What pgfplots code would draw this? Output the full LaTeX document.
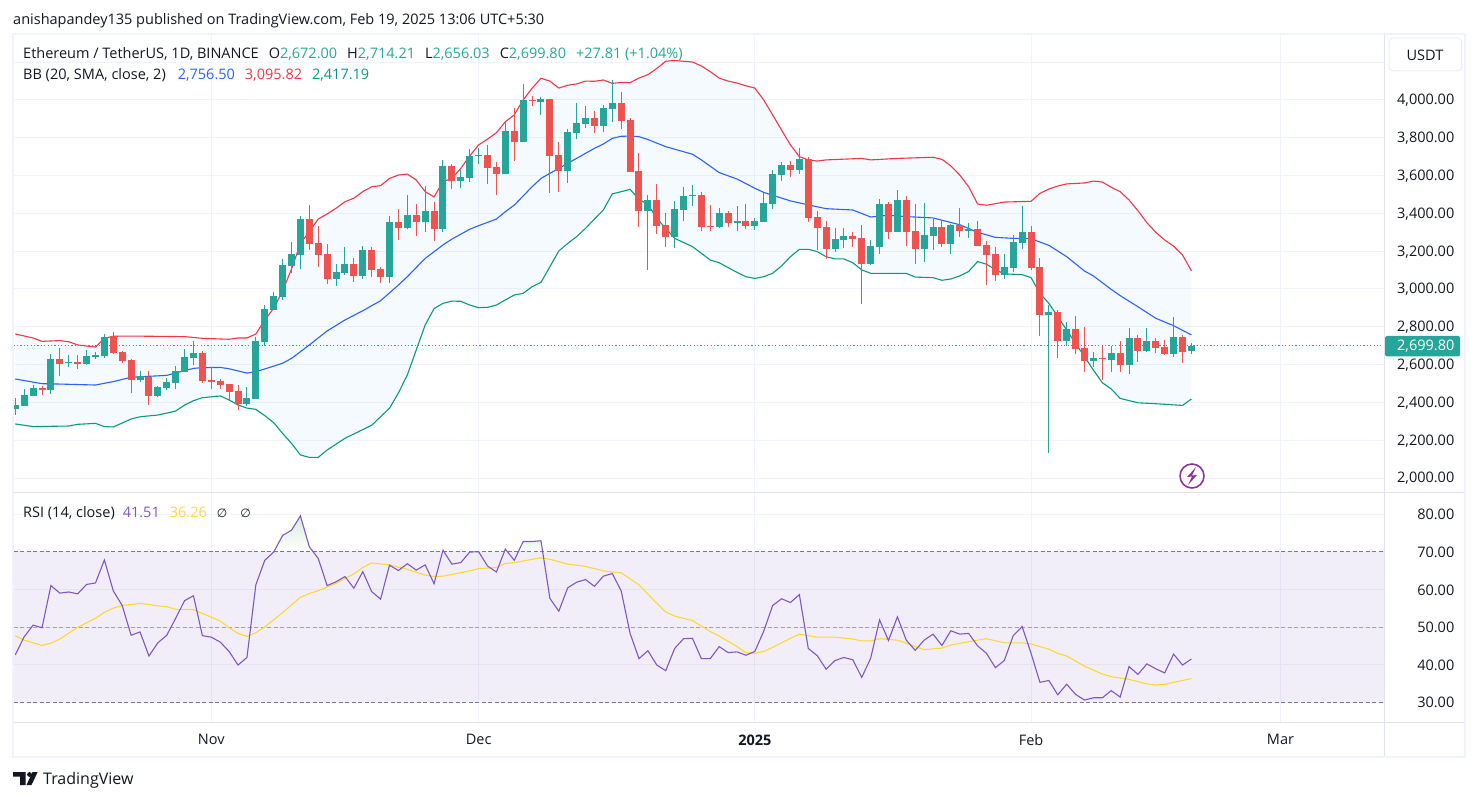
\documentclass[border=0pt]{standalone}
\usepackage{fontspec}
\setmainfont{Open Sans}
\newfontfamily\djv{DejaVu Sans}
\usepackage{pgfplots}
\usepackage{pgfplotstable}
\pgfplotsset{compat=1.18}
\usepgfplotslibrary{fillbetween}
\definecolor{cgreen}{HTML}{26A69A}
\definecolor{cred}{HTML}{EF5350}
\definecolor{bbblue}{HTML}{2962FF}
\definecolor{bbfill}{HTML}{2196F3}
\definecolor{bbred}{HTML}{F23645}
\definecolor{bbgreen}{HTML}{089981}
\definecolor{gridc}{HTML}{F0F3FA}
\definecolor{framec}{HTML}{E0E3EB}
\definecolor{rsip}{HTML}{7E57C2}
\definecolor{rsiy}{HTML}{FDD835}
\definecolor{dashc}{HTML}{787B86}
\definecolor{txt}{HTML}{131722}
\definecolor{gfill}{HTML}{D8ECDC}
\pgfplotstableread{
i o h l c
0 2365 2421 2333 2386
1 2381 2469 2381 2439
2 2434 2492 2434 2476
3 2478 2487 2439 2466
4 2466 2656 2444 2630
5 2630 2690 2540 2603
6 2608 2651 2589 2614
7 2614 2651 2577 2603
8 2603 2677 2598 2645
9 2640 2665 2628 2651
10 2645 2762 2635 2746
11 2751 2772 2656 2661
12 2667 2672 2608 2619
13 2624 2630 2450 2518
14 2518 2566 2508 2540
15 2534 2566 2386 2434
16 2434 2487 2428 2481
17 2476 2529 2466 2508
18 2503 2593 2471 2566
19 2561 2682 2561 2640
20 2635 2725 2598 2661
21 2661 2672 2503 2513
22 2518 2585 2471 2508
23 2513 2524 2471 2492
24 2497 2497 2413 2455
25 2460 2492 2360 2391
26 2391 2481 2381 2423
27 2418 2744 2418 2725
28 2720 2915 2698 2894
29 2889 2984 2889 2963
30 2959 3157 2942 3127
31 3123 3249 3083 3185
32 3180 3386 3106 3370
33 3370 3444 3206 3240
34 3243 3333 3116 3180
35 3185 3238 3026 3053
36 3053 3132 3016 3090
37 3084 3222 3074 3132
38 3132 3164 3037 3069
39 3069 3227 3053 3206
40 3206 3222 3063 3100
41 3106 3118 3032 3063
42 3063 3386 3032 3354
43 3354 3423 3259 3323
44 3323 3497 3317 3391
45 3391 3450 3280 3354
46 3354 3545 3301 3413
47 3413 3460 3254 3317
48 3317 3682 3301 3651
49 3651 3661 3529 3571
50 3571 3635 3534 3592
51 3587 3741 3566 3704
52 3704 3746 3661 3709
53 3709 3762 3555 3640
54 3645 3672 3497 3608
55 3608 3885 3608 3836
56 3836 3958 3677 3778
57 3778 4085 3778 4000
58 4000 4021 3968 3995
59 3989 4016 3921 4005
60 4005 4005 3508 3704
61 3709 3778 3513 3624
62 3624 3846 3561 3831
63 3825 3984 3794 3878
64 3873 3968 3852 3905
65 3905 3942 3825 3862
66 3862 3973 3830 3958
67 3952 4106 3883 3984
68 3984 4042 3846 3889
69 3894 3905 3619 3619
70 3624 3719 3328 3413
71 3413 3497 3100 3471
72 3471 3555 3291 3333
73 3339 3402 3222 3275
74 3275 3466 3217 3423
75 3418 3540 3360 3492
76 3492 3550 3439 3497
77 3497 3513 3307 3328
78 3333 3444 3307 3328
79 3328 3429 3323 3402
80 3402 3413 3328 3349
81 3349 3439 3307 3360
82 3360 3450 3317 3333
83 3333 3376 3312 3360
84 3355 3506 3355 3455
85 3450 3630 3423 3608
86 3603 3672 3571 3656
87 3656 3677 3593 3630
88 3630 3746 3608 3688
89 3688 3698 3355 3376
90 3381 3413 3206 3323
91 3328 3360 3159 3212
92 3212 3323 3196 3265
93 3259 3323 3217 3280
94 3280 3302 3222 3265
95 3270 3339 2921 3132
96 3132 3259 3127 3228
97 3222 3476 3185 3450
98 3450 3460 3265 3302
99 3302 3524 3302 3471
100 3471 3492 3228 3302
101 3307 3450 3132 3212
102 3212 3455 3143 3286
103 3280 3370 3206 3328
104 3328 3365 3222 3238
105 3238 3345 3185 3339
106 3339 3429 3275 3307
107 3307 3349 3270 3318
108 3318 3360 3228 3228
109 3233 3254 3021 3180
110 3185 3222 3042 3074
111 3074 3185 3053 3116
112 3111 3286 3090 3249
113 3243 3439 3212 3302
114 3302 3333 3100 3111
115 3116 3164 2751 2862
116 2862 2915 2132 2878
117 2878 2889 2635 2725
118 2725 2825 2698 2788
119 2788 2857 2656 2683
120 2688 2799 2561 2619
121 2619 2667 2587 2635
122 2635 2698 2518 2630
123 2624 2698 2561 2661
124 2661 2725 2561 2598
125 2598 2794 2550 2741
126 2741 2757 2614 2672
127 2672 2794 2667 2725
128 2725 2741 2661 2688
129 2693 2730 2651 2656
130 2656 2852 2640 2746
131 2746 2757 2609 2667
132 2672 2714 2656 2700
}\candles
\pgfplotstableread{
i v
0 2762
2 2741
3 2723
5 2727
6 2721
7 2704
9 2693
10 2739
11 2750
13 2751
19 2748
21 2739
24 2734
25 2741
26 2741
27 2762
28 2836
29 2898
30 2990
31 3105
32 3240
33 3305
34 3370
35 3397
36 3427
37 3462
38 3480
39 3515
40 3541
41 3547
42 3585
43 3603
44 3608
45 3577
46 3515
47 3487
48 3568
49 3585
50 3638
51 3704
52 3762
53 3793
54 3827
55 3885
56 3921
57 4000
58 4062
59 4115
60 4100
61 4063
62 4078
63 4085
64 4100
65 4099
66 4106
67 4088
68 4093
69 4092
70 4116
71 4134
72 4167
73 4205
74 4209
75 4205
76 4201
77 4180
78 4150
79 4116
80 4100
81 4090
82 4075
83 4063
84 4000
85 3921
86 3841
87 3762
88 3700
89 3683
90 3677
91 3683
95 3691
96 3683
99 3691
103 3697
104 3686
105 3651
106 3603
107 3541
108 3450
109 3443
111 3460
114 3464
115 3506
116 3529
117 3545
118 3556
120 3561
121 3571
122 3566
123 3538
124 3515
125 3471
126 3414
127 3351
128 3300
129 3259
130 3227
131 3180
132 3096
}\bbupper
\pgfplotstableread{
i v
0 2524
3 2499
5 2497
9 2492
11 2510
13 2533
17 2543
19 2568
20 2580
21 2584
23 2585
24 2578
26 2555
27 2562
28 2577
30 2607
31 2633
32 2668
33 2704
35 2778
37 2836
39 2885
41 2938
43 3021
44 3065
46 3162
47 3197
48 3233
49 3264
51 3316
52 3335
54 3370
55 3409
56 3444
57 3492
58 3541
59 3585
60 3612
61 3638
62 3665
63 3691
64 3718
65 3744
66 3767
67 3797
68 3808
69 3809
70 3806
71 3791
73 3753
76 3713
77 3683
79 3616
81 3582
83 3533
84 3511
87 3466
89 3445
91 3425
94 3418
96 3381
98 3390
100 3383
103 3376
106 3340
108 3300
110 3273
112 3268
114 3266
116 3231
118 3171
120 3095
121 3069
123 2998
124 2965
126 2906
128 2845
130 2806
132 2757
}\bbmid
\pgfplotstableread{
i v
0 2286
2 2272
6 2275
7 2284
9 2289
10 2272
11 2270
13 2312
14 2324
16 2333
18 2354
19 2386
20 2409
21 2425
23 2434
24 2413
25 2386
26 2370
27 2363
28 2330
29 2293
30 2236
31 2183
32 2122
33 2109
34 2109
35 2148
37 2210
40 2279
42 2369
43 2450
44 2545
45 2677
46 2809
47 2896
48 2924
49 2936
50 2935
51 2915
52 2901
53 2903
54 2915
55 2942
56 2968
57 2977
58 3012
59 3035
60 3118
61 3201
62 3241
63 3277
64 3321
65 3370
66 3418
67 3503
68 3515
69 3527
70 3475
71 3447
72 3374
73 3320
74 3268
76 3224
77 3189
78 3153
79 3139
80 3113
81 3088
82 3065
83 3056
84 3065
85 3083
86 3122
87 3171
88 3210
89 3210
90 3198
91 3171
92 3159
93 3159
94 3139
95 3101
96 3083
100 3083
101 3063
103 3060
104 3046
105 3053
106 3069
107 3093
108 3145
109 3131
110 3103
111 3080
113 3076
114 3060
115 2977
116 2924
117 2854
118 2783
119 2712
120 2642
121 2571
122 2504
123 2471
124 2421
126 2398
128 2393
131 2384
132 2418
}\bblower
\pgfplotstableread{
i v
0 42.6
1 47.4
2 50.5
3 49.8
4 61.0
5 59.0
6 59.3
7 58.8
8 61.3
9 61.7
10 67.8
11 59.6
12 55.7
13 47.8
14 48.7
15 42.3
16 45.8
17 47.8
18 52.3
19 57.0
20 58.3
21 47.7
22 47.3
23 46.0
24 43.5
25 39.9
26 41.9
27 61.2
28 67.7
29 69.9
30 74.3
31 75.7
32 79.5
33 71.3
34 68.2
35 61.0
36 62.0
37 63.4
38 60.3
39 64.7
40 59.4
41 57.4
42 66.4
43 65.0
44 66.8
45 65.1
46 66.5
47 61.5
48 70.4
49 66.7
50 67.1
51 69.9
52 70.0
53 66.2
54 64.6
55 70.7
56 67.7
57 72.7
58 72.7
59 72.9
60 57.6
61 54.2
62 60.4
63 61.9
64 62.6
65 60.8
66 63.5
67 64.2
68 59.6
69 48.3
70 41.6
71 43.7
72 39.9
73 38.4
74 44.3
75 46.9
76 47.0
77 41.6
78 41.6
79 44.8
80 43.2
81 43.4
82 42.5
83 43.5
84 48.9
85 55.7
86 57.5
87 56.5
88 58.6
89 44.3
90 42.4
91 38.8
92 41.1
93 41.9
94 41.3
95 36.6
96 41.7
97 51.9
98 46.4
99 52.7
100 46.5
101 43.8
102 46.5
103 48.1
104 45.1
105 49.0
106 48.1
107 48.3
108 45.0
109 43.0
110 39.2
111 41.1
112 47.7
113 50.1
114 43.0
115 35.3
116 35.8
117 32.0
118 34.8
119 32.1
120 30.6
121 31.2
122 31.2
123 33.1
124 31.4
125 39.5
126 37.4
127 40.2
128 38.9
129 37.8
130 42.8
131 39.9
132 41.5
}\rsi
\pgfplotstableread{
i v
0 47.7
1 46.5
3 45.1
4 45.7
5 46.8
7 49.9
9 52.3
10 53.9
11 55.0
12 55.7
14 56.3
16 55.6
17 55.4
18 54.7
20 54.6
22 52.6
23 51.6
24 49.8
25 48.3
26 47.5
27 48.5
28 50.0
30 53.8
32 57.9
33 58.9
34 59.6
36 61.6
38 64.1
39 65.8
40 67.0
42 66.5
44 65.3
46 63.8
47 63.4
48 63.5
51 64.9
52 65.5
54 65.8
55 66.9
56 67.1
59 68.4
60 68.0
62 66.7
64 66.1
66 64.9
67 64.6
68 64.4
70 61.2
72 56.3
73 54.0
74 52.9
76 51.7
78 48.8
79 47.6
81 44.8
82 43.2
83 43.0
84 43.5
85 44.6
87 47.0
88 48.1
90 47.3
92 47.3
94 46.8
95 46.3
96 46.3
97 46.9
99 46.5
100 45.7
101 44.8
102 44.0
104 44.4
105 45.2
107 46.1
109 46.9
111 45.8
113 45.8
114 45.5
116 44.1
117 43.0
118 42.3
120 39.6
122 37.5
123 36.8
125 36.1
127 34.9
128 34.6
129 34.8
131 35.8
132 36.3
}\rsima
\pgfplotsset{
  tvaxis/.style={
    scale only axis, width=1371pt, xmin=-0.2, xmax=153.67,
    axis line style={draw=none}, tick style={draw=none},
    major tick length=0pt,
    axis y line*=right,
    xmajorgrids, ymajorgrids,
    grid style={color=gridc,line width=1pt},
    xtick={22,52,83,114,142},
    y tick label style={anchor=east,xshift=70pt,yshift=-0.5pt,inner sep=0pt,font=\fontsize{14.5}{16}\selectfont,text=txt},
    /pgf/number format/assume math mode=true,
    /pgf/number format/fixed,
    /pgf/number format/fixed zerofill,
    /pgf/number format/precision=2,
    /pgf/number format/1000 sep={,},
    scaled y ticks=false,
    clip=true,
  },
  noline/.style={draw=none,mark=none,forget plot},
}
\newcommand{\fs}[1]{\fontsize{#1}{#1}\selectfont}
\begin{document}
\begin{tikzpicture}[x=1pt,y=1pt]
\path (0,0) rectangle (1479,801);
\begin{axis}[tvaxis, name=price, at={(13.5pt,308.5pt)}, anchor=south west, height=458.5pt,
  ymin=1923.3, ymax=4349.2, ytick={2000,2200,...,4000}, xticklabels={},
  extra y ticks={4200}, extra y tick labels={}, extra y tick style={grid=major}]
  \addplot[name path=upper, draw=none, forget plot] table[x=i,y=v] {\bbupper};
  \addplot[name path=lower, draw=none, forget plot] table[x=i,y=v] {\bblower};
  \addplot[fill=bbfill, fill opacity=0.05, draw=none, forget plot] fill between[of=upper and lower];
  \addplot[bbred, line width=1.1pt] table[x=i,y=v] {\bbupper};
  \addplot[bbblue, line width=1.1pt] table[x=i,y=v] {\bbmid};
  \addplot[bbgreen, line width=1.1pt] table[x=i,y=v] {\bblower};
  \addplot[cgreen, line width=1pt, dash pattern=on 1.2pt off 2.2pt] coordinates {(-0.2,2699.8) (153.3,2699.8)};
  % wicks and bodies, green
  \addplot[noline, unbounded coords=discard, error bars/.cd, y dir=both, y explicit, error mark=none,
     error bar style={cgreen,line width=1pt}]
     table[x expr={\thisrow{c}>=\thisrow{o} ? \thisrow{i} : nan}, y=o,
           y error plus expr=\thisrow{h}-\thisrow{o}, y error minus expr=\thisrow{o}-\thisrow{l}] {\candles};
  \addplot[noline, unbounded coords=discard, error bars/.cd, y dir=plus, y explicit, error mark=none,
     error bar style={cgreen,line width=7pt}]
     table[x expr={\thisrow{c}>=\thisrow{o} ? \thisrow{i} : nan}, y=o,
           y error plus expr=\thisrow{c}-\thisrow{o}] {\candles};
  % red
  \addplot[noline, unbounded coords=discard, error bars/.cd, y dir=both, y explicit, error mark=none,
     error bar style={cred,line width=1pt}]
     table[x expr={\thisrow{c}<\thisrow{o} ? \thisrow{i} : nan}, y=o,
           y error plus expr=\thisrow{h}-\thisrow{o}, y error minus expr=\thisrow{o}-\thisrow{l}] {\candles};
  \addplot[noline, unbounded coords=discard, error bars/.cd, y dir=plus, y explicit, error mark=none,
     error bar style={cred,line width=7pt}]
     table[x expr={\thisrow{c}<\thisrow{o} ? \thisrow{i} : nan}, y=c,
           y error plus expr=\thisrow{o}-\thisrow{c}] {\candles};
\end{axis}
\begin{axis}[tvaxis, name=rsi, at={(13.5pt,79pt)}, anchor=south west, height=229.5pt,
  ymin=24.77, ymax=85.72, ytick={30,40,...,80},
  xticklabels={Nov,Dec,\textbf{2025},Feb,Mar},
  x tick label style={font=\fontsize{14.5}{16}\selectfont,text=txt,yshift=-9pt}]
  \addplot[draw=none, fill=rsip, fill opacity=0.1, forget plot] coordinates {(-0.2,30) (153.67,30) (153.67,70) (-0.2,70)} -- cycle;
  \addplot[draw=none, shade, top color=gfill, bottom color=white, forget plot] coordinates {(29.03,70) (30,74.3) (31,75.7) (32,79.5) (33,71.3) (33.42,70)} -- cycle;
  \addplot[draw=none, shade, top color=gfill!60, bottom color=white, forget plot] coordinates {(56.8,70) (57,72.7) (58,72.7) (59,72.9) (59.17,70)} -- cycle;
  \addplot[dashc, dash pattern=on 4pt off 2.5pt, line width=1pt] coordinates {(-0.2,70) (153.67,70)};
  \addplot[dashc!70, dash pattern=on 4pt off 2.5pt, line width=1pt] coordinates {(-0.2,50) (153.67,50)};
  \addplot[dashc, dash pattern=on 4pt off 2.5pt, line width=1pt] coordinates {(-0.2,30) (153.67,30)};
  \addplot[rsiy, line width=1.1pt] table[x=i,y=v] {\rsima};
  \addplot[rsip, line width=1.1pt] table[x=i,y=v] {\rsi};
\end{axis}
% frame
\draw[framec,line width=1pt] (13.5,308.5) -- (1465,308.5);
\draw[framec,line width=1pt] (13.5,79) -- (1465,79);
\draw[framec,line width=1pt] (1384.5,44) -- (1384.5,767);
\draw[gridc,line width=2pt] (13,44) rectangle (1465,767);
% header
\node[anchor=west,inner sep=0pt,text=txt,font=\fs{14.5}] at (13,780.5) {anishapandey135 published on TradingView.com, Feb 19, 2025 13:06 UTC+5:30};
\node[anchor=west,inner sep=0pt,text=txt,font=\fs{14.5}] at (23,747) {Ethereum / TetherUS, 1D, BINANCE\hspace{10pt}O\textcolor{cgreen}{2,672.00}\hspace{10pt}H\textcolor{cgreen}{2,714.21}\hspace{10pt}L\textcolor{cgreen}{2,656.03}\hspace{10pt}C\textcolor{cgreen}{2,699.80}\hspace{10pt}\textcolor{cgreen}{+27.81 (+1.04\%)}};
\node[anchor=west,inner sep=0pt,text=txt,font=\fs{14.5}] at (23,726) {BB (20, SMA, close, 2)\hspace{12pt}\textcolor{bbblue}{2,756.50}\hspace{10pt}\textcolor{bbred}{3,095.82}\hspace{10pt}\textcolor{bbgreen}{2,417.19}};
\node[anchor=west,inner sep=0pt,text=txt,font=\fs{14.5}] at (23,287.5) {RSI (14, close)\hspace{8pt}\textcolor{rsip}{41.51}\hspace{10pt}\textcolor{rsiy}{36.26}\hspace{10pt}{\djv\fs{12}∅}\hspace{13pt}{\djv\fs{12}∅}};
% currency box
\draw[framec!60,fill=white,rounded corners=4pt,line width=1pt] (1389,730) rectangle (1461.5,763);
\node[text=txt,font=\fs{14.5},inner sep=0pt] at (1425,746) {USDT};
% price label
\fill[cgreen,rounded corners=1.5pt] (1385,444.5) rectangle (1460,465);
\node[anchor=east,text=white,font=\fs{14.5},inner sep=0pt] at (1454.5,454.5) {2,699.80};
% lightning
\draw[color=purple!60!blue!80,line width=1.6pt] (1192,325) circle (12);
\fill[color=purple!60!blue!80] (1196,334) -- (1187,324) -- (1192,324.5) -- (1188,316) -- (1197,326) -- (1192,325.5) -- cycle;
% logo
\fill[txt] (13,29) -- (25.7,29) -- (25.7,16) -- (20,16) -- (20,24.5) -- (13,24.5) -- cycle;
\fill[txt] (29.5,26.5) circle (2.4);
\fill[txt] (32.5,29) -- (37.7,29) -- (31.5,16) -- (26.5,16) -- cycle;
\node[anchor=west,inner sep=0pt,text=txt,font=\fs{16}] at (43,20.5) {TradingView};
\end{tikzpicture}
\end{document}
